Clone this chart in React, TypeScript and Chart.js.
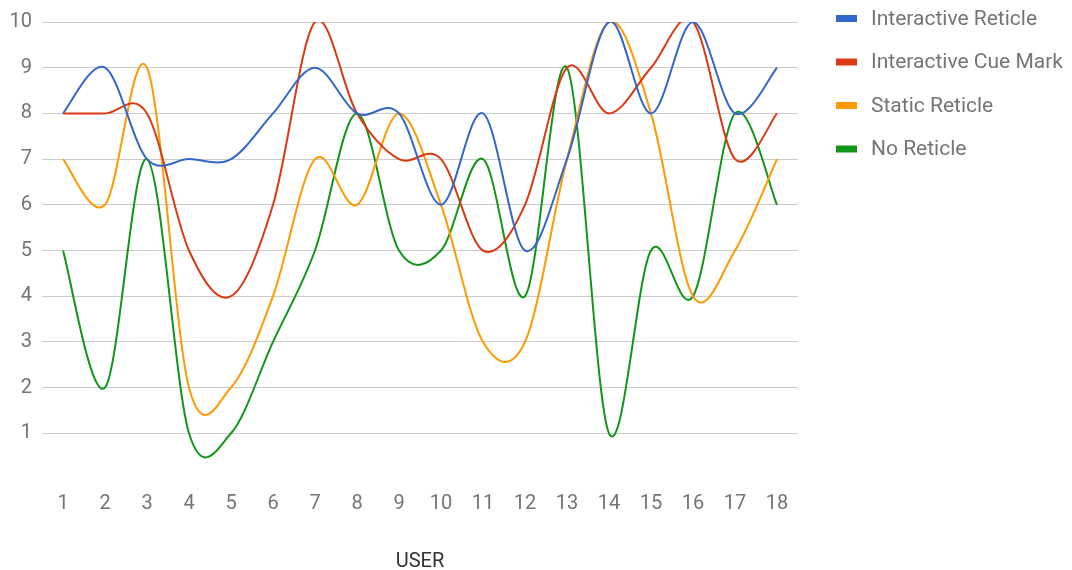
import React, { useEffect, useRef } from "react";
import { Chart, registerables } from "chart.js";

Chart.register(...registerables);

const users = ["1","2","3","4","5","6","7","8","9","10","11","12","13","14","15","16","17","18"];
const interactiveReticle = [8, 9, 7, 7, 7, 8, 9, 8, 8, 6, 8, 5, 7, 10, 8, 10, 8, 9];
const interactiveCueMark = [8, 8, 8, 5, 4, 6, 10, 8, 7, 7, 5, 6, 9, 8, 9, 10, 7, 8];
const staticReticle = [7, 6, 9, 2, 2, 4, 7, 6, 8, 6, 3, 3, 7, 10, 8, 4, 5, 7];
const noReticle = [5, 2, 7, 1, 1, 3, 5, 8, 5, 5, 7, 4, 9, 1, 5, 4, 8, 6];
const seriesNames = ["Interactive Reticle", "Interactive Cue Mark", "Static Reticle", "No Reticle"];
const seriesColors = ["#3366cc", "#dc3912", "#ff9900", "#109618"];
const yTicks = [1, 2, 3, 4, 5, 6, 7, 8, 9, 10];

const FONT = "Roboto, 'Noto Sans', Arial, sans-serif";

// Uniform Catmull-Rom control points (matches the reference's smooth "function" curves)
const catmullRomPlugin = {
  id: "catmullRom",
  beforeDatasetDraw(chart: any, args: any) {
    const meta = args.meta;
    const line = meta.dataset;
    if (!line) return;
    if (typeof line.updateControlPoints === "function") {
      line.updateControlPoints(chart.chartArea, meta.iScale ? meta.iScale.axis : "x");
    }
    line._pointsUpdated = true;
    const pts = meta.data;
    for (let i = 0; i < pts.length; i++) {
      const p = pts[i];
      const prev = pts[i - 1] || p;
      const next = pts[i + 1] || p;
      const dx = (next.x - prev.x) / 6;
      const dy = (next.y - prev.y) / 6;
      p.cp1x = p.x - dx;
      p.cp1y = p.y - dy;
      p.cp2x = p.x + dx;
      p.cp2y = p.y + dy;
    }
    line._path = undefined;
  },
};

const legendPlugin = {
  id: "customLegend",
  afterDraw(chart: any) {
    const ctx = chart.ctx;
    ctx.save();
    ctx.font = `21px ${FONT}`;
    ctx.textBaseline = "middle";
    ctx.textAlign = "left";
    chart.data.datasets.forEach((ds: any, i: number) => {
      const y = 18.5 + i * 43.5;
      ctx.fillStyle = ds.borderColor;
      ctx.fillRect(836, y - 3.5, 21, 7);
      ctx.fillStyle = "#757575";
      ctx.fillText(ds.label, 871, y + 1);
    });
    ctx.restore();
  },
};

export default function App() {
  const ref = useRef<HTMLCanvasElement>(null);
  useEffect(() => {
    const datasets = [interactiveReticle, interactiveCueMark, staticReticle, noReticle].map((d, i) => ({
      label: seriesNames[i],
      data: d,
      borderColor: seriesColors[i],
      backgroundColor: seriesColors[i],
      borderWidth: 2,
      pointRadius: 0,
      tension: 0.4,
      fill: false,
      clip: 0,
    }));
    const chart = new Chart(ref.current!, {
      type: "line",
      data: { labels: users, datasets },
      options: {
        responsive: false,
        animation: false,
        elements: { line: { capBezierPoints: false } },
        layout: { padding: { top: 18, right: 274, left: 0, bottom: 0 } },
        plugins: { legend: { display: false }, tooltip: { enabled: false } },
        scales: {
          x: {
            offset: true,
            grid: { display: false, drawTicks: false },
            border: { display: false },
            ticks: { color: "#757575", font: { family: FONT, size: 20 }, padding: 13, maxRotation: 0, autoSkip: false },
            title: { display: true, text: "USER", color: "#333333", font: { family: FONT, size: 20 }, padding: { top: 0, bottom: -4 } },
            afterFit: (s: any) => { s.height = 91; },
          },
          y: {
            min: 0,
            max: 10,
            afterBuildTicks: (s: any) => { s.ticks = [0, ...yTicks].map((v) => ({ value: v })); },
            grid: {
              drawTicks: false,
              color: (c: any) => (c.tick && c.tick.value === 0 ? "rgba(0,0,0,0)" : "#cccccc"),
              lineWidth: 1,
            },
            border: { display: false },
            ticks: {
              color: "#757575",
              font: { family: FONT, size: 20 },
              padding: 10,
              callback: (v: any) => (v === 0 ? "" : String(v)),
            },
            afterFit: (s: any) => { s.width = 42; },
          },
        },
      },
      plugins: [catmullRomPlugin, legendPlugin],
    });
    return () => chart.destroy();
  }, []);
  return (
    <div style={{ position: "fixed", left: 0, top: 0, width: 1072, height: 570, background: "#fff" }}>
      <canvas ref={ref} width={1072} height={570} />
    </div>
  );
}
